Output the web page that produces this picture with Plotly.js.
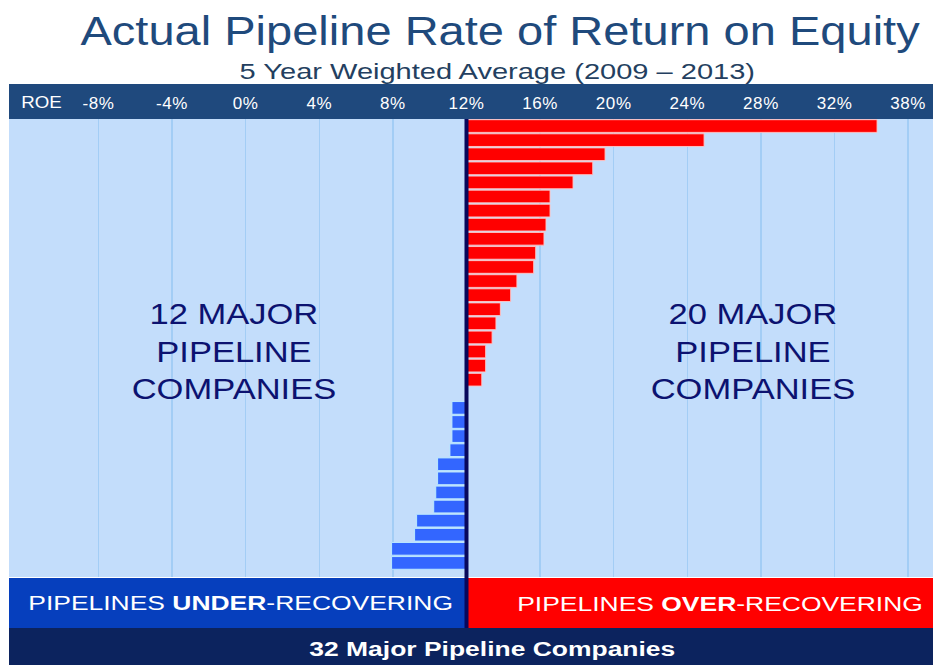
<!DOCTYPE html>
<html>
<head>
<meta charset="utf-8">
<script src="https://cdn.plot.ly/plotly-3.0.1.min.js"></script>
<style>
  html, body { margin: 0; padding: 0; background: #ffffff; }
  #chart { width: 933px; height: 665px; }
  /* the reference lettering is horizontally wide: stretch each text about its own centre */
  #chart .gtitle,
  #chart .annotation text { transform-box: fill-box; transform-origin: center; }
  #chart .gtitle { transform: scaleX(1.176); }
  #chart .xtick text { letter-spacing: 0.6px; }
  #chart .annotation[data-index="0"] text { transform: scaleX(1.32); }
  #chart .annotation[data-index="1"] text { transform: scaleX(1.1); }
  #chart .annotation[data-index="2"] text,
  #chart .annotation[data-index="3"] text { transform: scaleX(1.19); }
  #chart .annotation[data-index="4"] text,
  #chart .annotation[data-index="5"] text,
  #chart .annotation[data-index="6"] text { transform: scaleX(1.26); }
</style>
</head>
<body>
<div id="chart"></div>
<script>
// ROE (%) of each pipeline company, 5 year weighted average 2009-2013, ordered top to bottom
const overCompanies = ["P1","P2","P3","P4","P5","P6","P7","P8","P9","P10","P11","P12","P13","P14","P15","P16","P17","P18","P19","P20"];
const overROE = [34.31, 24.91, 19.53, 18.86, 17.79, 16.54, 16.54, 16.32, 16.21, 15.76, 15.65, 14.74, 14.40, 13.84, 13.60, 13.39, 13.04, 13.04, 12.83, 12.0];
const underCompanies = ["P21","P22","P23","P24","P25","P26","P27","P28","P29","P30","P31","P32"];
const underROE = [11.21, 11.21, 11.21, 11.10, 10.43, 10.43, 10.33, 10.22, 9.29, 9.18, 7.93, 7.93];
const benchmarkROE = 12;
const tickValues = [-8, -4, 0, 4, 8, 12, 16, 20, 24, 28, 32, 36];
const tickLabels = ["-8%", "-4%", "0%", "4%", "8%", "12%", "16%", "20%", "24%", "28%", "32%", "38%"];
const allCompanies = overCompanies.concat(underCompanies);

const FONT = "Liberation Sans, Arial, sans-serif";

const traces = [
  {
    type: "bar", orientation: "h",
    y: overCompanies,
    x: overROE.map(v => v - benchmarkROE),
    base: benchmarkROE,
    marker: { color: "#ff0000", line: { color: "rgba(255,200,200,0.9)", width: 1 } },
    hoverinfo: "skip", showlegend: false
  },
  {
    type: "bar", orientation: "h",
    y: underCompanies,
    x: underROE.map(v => v - benchmarkROE),
    base: benchmarkROE,
    marker: { color: "#3366ff", line: { color: "rgba(190,235,255,0.95)", width: 1 } },
    hoverinfo: "skip", showlegend: false
  }
];

const H = 665, plotTop = 119, plotBottom = 577;
const ph = plotBottom - plotTop;
const py = y => (plotBottom - y) / ph; // pixel -> paper y

const layout = {
  width: 933, height: 665,
  margin: { l: 9, r: 0, t: plotTop, b: H - plotBottom, pad: 0 },
  paper_bgcolor: "#ffffff",
  plot_bgcolor: "#c3ddfb",
  bargap: 0.1,
  barmode: "overlay",
  font: { family: FONT },
  title: {
    text: "Actual Pipeline Rate of Return on Equity",
    font: { family: FONT, size: 40, color: "#1f4a7c" },
    x: 0.536, xanchor: "center", y: 1 - 31 / H, yanchor: "middle"
  },
  xaxis: {
    side: "top",
    range: [-12.86, 37.35],
    tickvals: tickValues,
    ticktext: tickLabels,
    tickfont: { family: FONT, size: 17, color: "#ffffff" },
    ticks: "",
    ticklabelstandoff: 6,
    showgrid: true, gridcolor: "#a3cdf5", gridwidth: 1.5,
    zeroline: false, showline: false, fixedrange: true
  },
  yaxis: {
    type: "category",
    categoryorder: "array",
    categoryarray: allCompanies,
    range: [32.0, -0.5],
    showticklabels: false, ticks: "", showgrid: false, zeroline: false, showline: false
  },
  shapes: [
    { type: "rect", xref: "paper", yref: "paper", x0: 0, x1: 1, y0: 1, y1: py(84), fillcolor: "#1f497d", line: { width: 0 }, layer: "below" },
    { type: "rect", xref: "x", yref: "paper", x0: -12.86, x1: benchmarkROE, y0: py(628), y1: py(578), fillcolor: "#063fbd", line: { width: 0 } },
    { type: "rect", xref: "x", yref: "paper", x0: benchmarkROE, x1: 37.35, y0: py(628), y1: py(578), fillcolor: "#ff0000", line: { width: 0 } },
    { type: "rect", xref: "paper", yref: "paper", x0: 0, x1: 1, y0: py(665), y1: py(628), fillcolor: "#0c235e", line: { width: 0 } },
    { type: "line", xref: "x", yref: "paper", x0: benchmarkROE, x1: benchmarkROE, y0: py(628), y1: 1, line: { color: "#08085c", width: 4 }, layer: "above" }
  ],
  annotations: [
    { text: "5 Year Weighted Average (2009 \u2013 2013)", xref: "paper", yref: "paper", x: (497.5 - 9) / 924, y: py(71.5), xanchor: "center", yanchor: "middle", showarrow: false, font: { family: FONT, size: 22, color: "#243f60" } },
    { text: "ROE", xref: "paper", yref: "paper", x: (41.5 - 9) / 924, y: py(102.5), xanchor: "center", yanchor: "middle", showarrow: false, font: { family: FONT, size: 17, color: "#ffffff" } },
    { text: "12 MAJOR<br>PIPELINE<br>COMPANIES", xref: "paper", yref: "paper", x: (234 - 9) / 924, y: py(351), xanchor: "center", yanchor: "middle", showarrow: false, align: "center", font: { family: FONT, size: 29, color: "#0c1270" } },
    { text: "20 MAJOR<br>PIPELINE<br>COMPANIES", xref: "paper", yref: "paper", x: (753 - 9) / 924, y: py(351), xanchor: "center", yanchor: "middle", showarrow: false, align: "center", font: { family: FONT, size: 29, color: "#0c1270" } },
    { text: "PIPELINES <b>UNDER</b>-RECOVERING", xref: "paper", yref: "paper", x: (240 - 9) / 924, y: py(602.5), xanchor: "center", yanchor: "middle", showarrow: false, font: { family: FONT, size: 21, color: "#ffffff" } },
    { text: "PIPELINES <b>OVER</b>-RECOVERING", xref: "paper", yref: "paper", x: (720 - 9) / 924, y: py(603.5), xanchor: "center", yanchor: "middle", showarrow: false, font: { family: FONT, size: 21, color: "#ffffff" } },
    { text: "<b>32 Major Pipeline Companies</b>", xref: "paper", yref: "paper", x: (492.5 - 9) / 924, y: py(648), xanchor: "center", yanchor: "middle", showarrow: false, font: { family: FONT, size: 21, color: "#ffffff" } }
  ]
};

Plotly.newPlot("chart", traces, layout, { displayModeBar: false, staticPlot: true });
</script>
</body>
</html>
